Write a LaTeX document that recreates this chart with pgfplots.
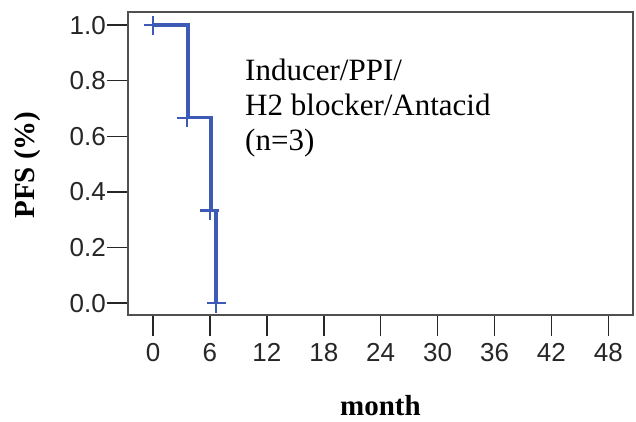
\documentclass[border=0pt]{standalone}
\usepackage{fontspec}
\setmainfont{Liberation Serif}
\setsansfont{Liberation Sans}
\usepackage{pgfplots}
\pgfplotsset{compat=1.18}
\definecolor{kmblue}{RGB}{60,90,182}
\definecolor{axisgray}{RGB}{80,80,80}

\begin{document}
\begin{tikzpicture}
\begin{axis}[
  scale only axis,
  width=505pt, height=303pt,
  xmin=-2.64, xmax=50.6,
  ymin=-0.043, ymax=1.047,
  xtick={0,6,12,18,24,30,36,42,48},
  ytick={0,0.2,0.4,0.6,0.8,1.0},
  xtick pos=bottom, ytick pos=left,
  tick align=outside,
  major tick length=21pt,
  axis line style={line width=1.6pt, draw=axisgray},
  tick style={line width=1.5pt, draw=black!85},
  /pgf/number format/assume math mode=true,
  yticklabel style={/pgf/number format/fixed, /pgf/number format/fixed zerofill, /pgf/number format/precision=1, inner xsep=1pt},
  xticklabel style={yshift=-4pt},
  ticklabel style={font=\sffamily\fontsize{26}{26}\selectfont, text=black!85},
  xlabel={month},
  xlabel style={font=\bfseries\fontsize{29}{29}\selectfont, at={(axis description cs:0.5,-0.333)}, anchor=base},
  ylabel={PFS (\%)},
  ylabel style={font=\bfseries\fontsize{29}{29}\selectfont, at={(axis description cs:-0.198,0.495)}, anchor=center},
  clip=false,
]
% Kaplan-Meier step curve
\addplot[kmblue, line width=3.3pt, line join=miter] coordinates {
  (0,1) (3.7,1) (3.7,0.667) (6.1,0.667) (6.1,0.333) (6.65,0.333) (6.65,0)
};
% censoring marks
\addplot[only marks, kmblue, mark=+, mark size=9.5pt, mark options={line width=2.2pt}] coordinates {
  (0,1) (3.55,0.667) (6.0,0.333) (6.65,0)
};
% group annotation, one node per line
\node[anchor=base west, inner sep=0pt, font=\fontsize{31}{35}\selectfont] at (axis cs:9.7,0.802) {Inducer/PPI/};
\node[anchor=base west, inner sep=0pt, font=\fontsize{31}{35}\selectfont] at (axis cs:9.7,0.676) {H2 blocker/Antacid};
\node[anchor=base west, inner sep=0pt, font=\fontsize{31}{35}\selectfont] at (axis cs:9.7,0.550) {(n=3)};
\end{axis}
\path ([shift={(-128pt,-106pt)}]current axis.south west) rectangle ([shift={(3pt,12pt)}]current axis.north east);
\end{tikzpicture}
\end{document}
